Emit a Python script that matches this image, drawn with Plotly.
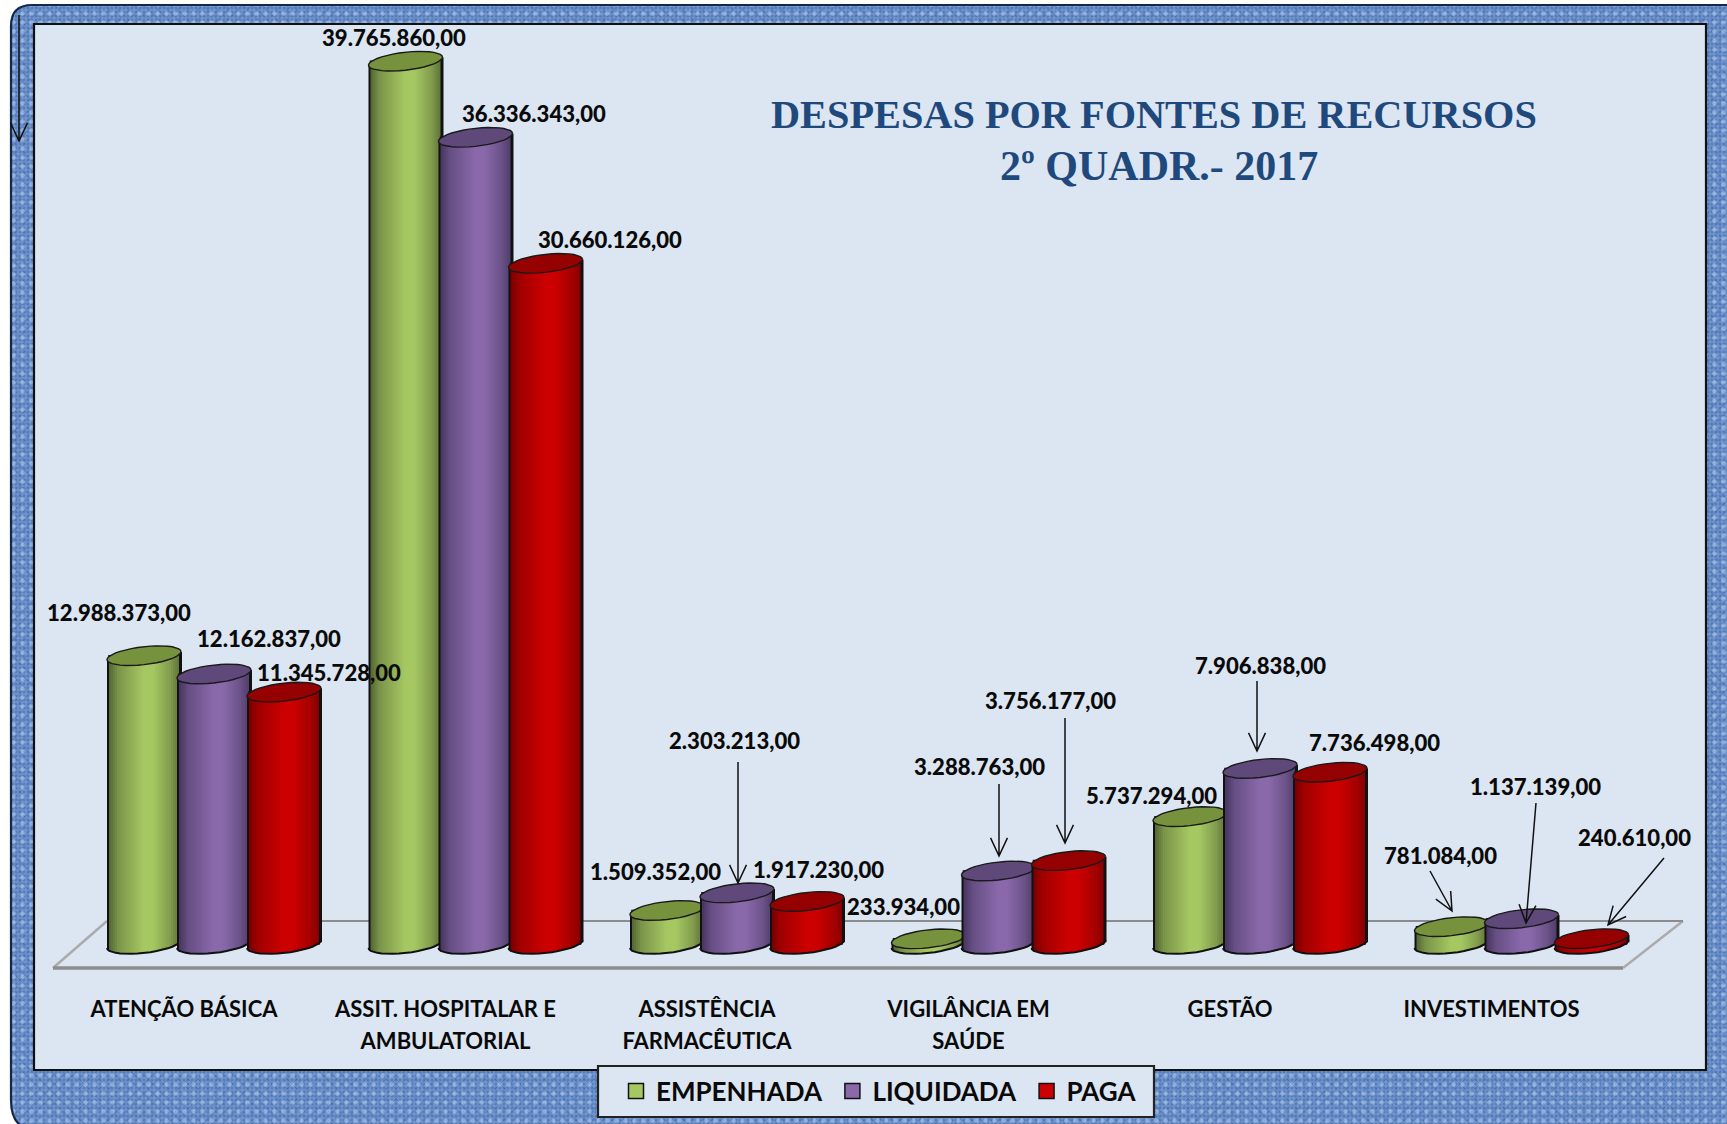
import math
import plotly.graph_objects as go

W, H = 1727, 1124

categories = ["ATENÇÃO BÁSICA", "ASSIT. HOSPITALAR E<br>AMBULATORIAL", "ASSISTÊNCIA<br>FARMACÊUTICA",
              "VIGILÂNCIA EM<br>SAÚDE", "GESTÃO", "INVESTIMENTOS"]
empenhada = [12988373, 39765860, 1509352, 233934, 5737294, 781084]
liquidada = [12162837, 36336343, 2303213, 3288763, 7906838, 1137139]
paga = [11345728, 30660126, 1917230, 3756177, 7736498, 240610]
series_names = ["EMPENHADA", "LIQUIDADA", "PAGA"]

# ---- layout constants (pixels of the page)
STEP = 261.5          # px per category
X0 = 184              # px of the first category tick
Y_ZERO = 944          # px of value 0
PX_PER_VAL = 22.2 / 1e6
AXIS_BOTTOM = 985
BAR_W = 74
BAR_OFF = [-77, -7, 63]
ELL_B, ELL_S = 9, 4
STRIP = 2

STYLES = [
    dict(center="#A6C863", dark="#46552A", top="#76923C"),
    dict(center="#8A69AB", dark="#3A2D52", top="#5F497A"),
    dict(center="#CC0000", dark="#6A0000", top="#950000"),
]
LINK = "#111111"


def hex2rgb(c):
    return tuple(int(c[i:i + 2], 16) for i in (1, 3, 5))


def mix(a, b, f):
    ra, rb = hex2rgb(a), hex2rgb(b)
    return "rgb(%d,%d,%d)" % tuple(round(x + (y - x) * f) for x, y in zip(ra, rb))


def shade(u):
    pts = [(0, .05), (.15, .55), (.5, 1), (.62, 1), (.85, .62), (1, .2)]
    for (a, fa), (b, fb) in zip(pts, pts[1:]):
        if u <= b:
            return fa + (fb - fa) * (u - a) / (b - a)
    return .2


def fmt(v):
    return f"{v:,.2f}".replace(",", "#").replace(".", ",").replace("#", ".")


def px(x):
    return x / W


def py(y):
    return 1 - y / H


fig = go.Figure()

# ---- textured frame, on a full-page pixel subplot drawn first
frame_rects = [(11, 5, 1727, 24), (11, 1070, 1727, 1124), (11, 24, 34, 1070), (1706, 24, 1727, 1070)]
for (x0, y0, x1, y1) in frame_rects:
    for pat in (dict(shape="+", size=4, solidity=.42, bgcolor="#557EBC", fgcolor="#A6C0EC"),
                dict(shape="x", size=7, solidity=.16, bgcolor="rgba(0,0,0,0)", fgcolor="#2B4C8C"),
                dict(shape=".", size=9, solidity=.2, bgcolor="rgba(0,0,0,0)", fgcolor="#C3D6F5")):
        fig.add_bar(x=[(x0 + x1) / 2], y=[y1 - y0], base=[y0], width=[x1 - x0], xaxis="x", yaxis="y",
                    showlegend=False, hoverinfo="skip",
                    marker=dict(color=pat["fgcolor"], line_width=0, pattern=pat))

# ---- cylinders
for s, (name, values, st, off) in enumerate(zip(series_names, [empenhada, liquidada, paga], STYLES, BAR_OFF)):
    z = s + 1
    # the plain value bars
    fig.add_bar(x=list(range(len(values))), y=values, name=name, xaxis="x2", yaxis="y2", zorder=z,
                offset=(off + 2) / STEP, width=(BAR_W - 4) / STEP, showlegend=False,
                marker=dict(color=st["center"], line=dict(color="#111111", width=1.5)), hoverinfo="skip")
    # shaded vertical strips following the cylinder's curved foot
    xs, bases, hs, widths, offs, cols = [], [], [], [], [], []
    n = BAR_W // STRIP
    for i, v in enumerate(values):
        vp = v * PX_PER_VAL
        for k in range(n):
            u = (k + .5) / n
            t = 2 * u - 1
            low = ELL_S * t - ELL_B * math.sqrt(max(0, 1 - t * t))
            high = vp + ELL_S * t
            xs.append(i)
            bases.append(low / PX_PER_VAL)
            hs.append((high - low) / PX_PER_VAL)
            widths.append((STRIP + 1) / STEP)
            offs.append((off + k * STRIP) / STEP)
            cols.append(LINK if k == 0 or k == n - 1 else mix(st["dark"], st["center"], shade(u)))
    fig.add_bar(x=xs, y=hs, base=bases, width=widths, offset=offs, xaxis="x2", yaxis="y2", zorder=z,
                showlegend=False, hoverinfo="skip", marker=dict(color=cols, line_width=0))
    # elliptical top and the dark foot line
    ex, ey, fx, fy = [], [], [], []
    for i, v in enumerate(values):
        vp = v * PX_PER_VAL
        for a in range(0, 361, 10):
            th = math.radians(a)
            c = i + (off + BAR_W / 2 + BAR_W / 2 * math.cos(th)) / STEP
            ex.append(c)
            ey.append((vp + ELL_S * math.cos(th) + ELL_B * math.sin(th)) / PX_PER_VAL)
        ex.append(None)
        ey.append(None)
        for a in range(180, 361, 10):
            th = math.radians(a)
            fx.append(i + (off + BAR_W / 2 + BAR_W / 2 * math.cos(th)) / STEP)
            fy.append((ELL_S * math.cos(th) + ELL_B * math.sin(th)) / PX_PER_VAL)
        fx.append(None)
        fy.append(None)
    fig.add_scatter(x=fx, y=fy, mode="lines", xaxis="x2", yaxis="y2", zorder=z, showlegend=False,
                    hoverinfo="skip", line=dict(color="#111111", width=2))
    fig.add_scatter(x=ex, y=ey, mode="lines", fill="toself", fillcolor=st["top"], xaxis="x2", yaxis="y2",
                    zorder=z, showlegend=False, hoverinfo="skip", line=dict(color="#1a1a1a", width=1.4))

# ---- legend entries: square markers, padded so the entries sit as in the picture
LEGEND_PAD = [1, 1, 0]
for name, st, pad in zip(series_names, STYLES, LEGEND_PAD):
    fig.add_scatter(x=[None], y=[None], name=name + "\u00a0" * pad, mode="markers", xaxis="x2", yaxis="y2",
                    hoverinfo="skip", zorder=5,
                    marker=dict(symbol="square", size=15, color=st["center"], line=dict(color="#111111", width=1.5)))

# ---- value labels
LABEL_POS = [
    [(119, 612), (394, 37), (655, 872), (904, 906), (1151, 795), (1440, 855)],
    [(269, 638), (534, 114), (734, 740), (980, 766), (1260, 665), (1535, 786)],
    [(329, 672), (610, 240), (818, 869), (1050, 700), (1374, 742), (1634, 837)],
]
LFONT = dict(family="Lato", size=22.1, color="#0a0a0a", weight=900)
ann = []
for values, positions in zip([empenhada, liquidada, paga], LABEL_POS):
    for v, (x, y) in zip(values, positions):
        ann.append(dict(text=fmt(v), xref="paper", yref="paper", x=px(x), y=py(y), xanchor="center",
                        yanchor="middle", showarrow=False, font=LFONT))

ann.append(dict(text="DESPESAS POR FONTES DE RECURSOS", xref="paper", yref="paper",
                x=px(1154), y=py(115), xanchor="center", yanchor="middle", showarrow=False,
                font=dict(family="Liberation Serif", size=40.3, color="#1F497D", weight=700)))
ann.append(dict(text="2º QUADR.- 2017", xref="paper", yref="paper", x=px(1159), y=py(166),
                xanchor="center", yanchor="middle", showarrow=False,
                font=dict(family="Liberation Serif", size=42, color="#1F497D", weight=700)))

# ---- shapes in page pixels


def P(x, y):
    return f"{px(x):.5f},{py(y):.5f}"


shapes = [
    dict(type="rect", xref="paper", yref="paper", x0=px(34), x1=px(1706), y0=py(1070), y1=py(24),
         fillcolor="#DCE6F2", line_width=0, layer="below"),
    # floor
    dict(type="path", xref="paper", yref="paper", layer="below", line=dict(color="#ABABAB", width=2.5),
         path=f"M{P(107, 921)} L{P(53, 968)} M{P(1683, 921)} L{P(1623, 968)}"),
    dict(type="line", xref="paper", yref="paper", layer="below", line=dict(color="#8C8C8C", width=2),
         x0=px(107), x1=px(1683), y0=py(921), y1=py(921)),
    dict(type="line", xref="paper", yref="paper", layer="below", line=dict(color="#8C8C8C", width=3.5),
         x0=px(53), x1=px(1623), y0=py(968), y1=py(968)),
    # panel border and outer frame
    dict(type="rect", xref="paper", yref="paper", x0=px(34), x1=px(1706), y0=py(1070), y1=py(24),
         line=dict(color="#111111", width=2.2), layer="above"),
    dict(type="path", xref="paper", yref="paper", layer="above", fillcolor="#FFFFFF", line_width=0,
         path=f"M{P(10, 4)} L{P(32, 4)} Q{P(11, 5)} {P(11, 26)} Z"),
    dict(type="path", xref="paper", yref="paper", layer="above", fillcolor="#FFFFFF", line_width=0,
         path=f"M{P(10, 1125)} L{P(20, 1125)} Q{P(11, 1118)} {P(11, 1100)} Z"),
    dict(type="path", xref="paper", yref="paper", layer="above", line=dict(color="#14284C", width=2.2),
         path=f"M{P(1727, 5)} L{P(32, 5)} Q{P(11, 5)} {P(11, 26)} L{P(11, 1100)} Q{P(11, 1118)} {P(20, 1125)}"),
    # legend box
    dict(type="rect", xref="paper", yref="paper", x0=px(598), x1=px(1154), y0=py(1117), y1=py(1066),
         fillcolor="#DCE6F2", line=dict(color="#222222", width=2.2), layer="above"),
]

ARROWS = [
    ((19, 15), (19, 141)),
    ((738, 762), (738, 883)),
    ((999, 784), (999, 856)),
    ((1065, 718), (1065, 843)),
    ((1257, 681), (1257, 751)),
    ((1430, 871), (1452, 911)),
    ((1536, 803), (1526, 923)),
    ((1664, 858), (1608, 925)),
]
for (x0, y0), (x1, y1) in ARROWS:
    a = math.atan2(y1 - y0, x1 - x0)
    L, sp = 20, math.radians(25)
    h1 = (x1 - L * math.cos(a - sp), y1 - L * math.sin(a - sp))
    h2 = (x1 - L * math.cos(a + sp), y1 - L * math.sin(a + sp))
    shapes.append(dict(type="path", xref="paper", yref="paper", layer="above",
                       line=dict(color="#111111", width=1.5),
                       path=f"M{P(x0, y0)} L{P(x1, y1)} M{P(*h1)} L{P(x1, y1)} L{P(*h2)}"))

SPAN = '<span style="font-size:22px">'
ticktext = [SPAN + c.replace("<br>", "</span><br>" + SPAN) + "</span>" for c in categories]

fig.update_layout(
    width=W, height=H, autosize=False, paper_bgcolor="#FFFFFF", plot_bgcolor="rgba(0,0,0,0)",
    margin=dict(l=0, r=0, t=0, b=0, pad=0, autoexpand=False), barmode="overlay",
    xaxis=dict(domain=[0, 1], range=[0, W], visible=False, fixedrange=True),
    yaxis=dict(domain=[0, 1], range=[H, 0], visible=False, fixedrange=True),
    xaxis2=dict(domain=[0, 1], anchor="y2", range=[-X0 / STEP, (W - X0) / STEP], tickvals=list(range(6)),
                ticktext=ticktext, ticks="", showgrid=False, zeroline=False, showline=False, automargin=False,
                tickangle=0, ticklabelstandoff=6,
                tickfont=dict(family="Lato", size=24.6, color="#0a0a0a", weight=700)),
    yaxis2=dict(domain=[1 - AXIS_BOTTOM / H, 1], anchor="x2",
                range=[(Y_ZERO - AXIS_BOTTOM) / PX_PER_VAL, Y_ZERO / PX_PER_VAL],
                visible=False, showgrid=False, zeroline=False),
    legend=dict(orientation="h", x=px(616), y=py(1091), xanchor="left", yanchor="middle",
                bgcolor="rgba(0,0,0,0)", borderwidth=0, traceorder="normal", itemwidth=30,
                font=dict(family="Lato", size=26, color="#0a0a0a", weight=700)),
    annotations=ann, shapes=shapes,
)

fig.write_html("out.html", config=dict(displayModeBar=False),
               post_script="document.body.style.margin='0';document.documentElement.style.overflow='hidden';")
